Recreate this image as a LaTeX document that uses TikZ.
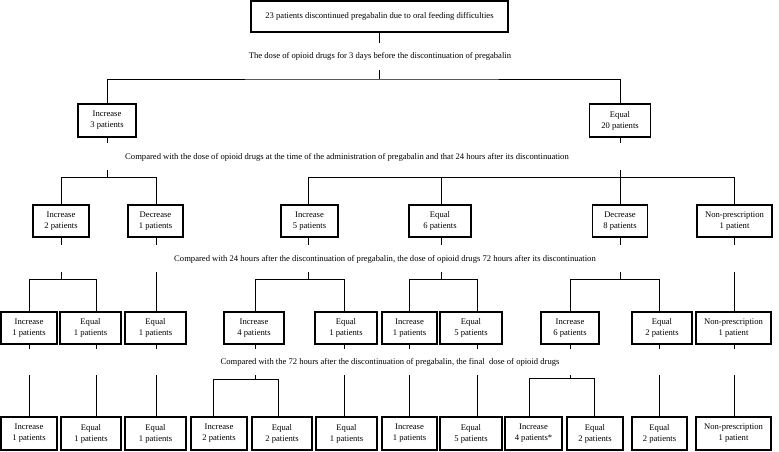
\documentclass[tikz,border=0pt]{standalone}
\usepackage{fontspec}
\setmainfont{Liberation Serif}
\begin{document}
\begin{tikzpicture}[x=1pt,y=-1pt,
  bx/.style={draw, line width=1.3pt, rectangle, inner sep=0pt, align=center,
    font=\fontsize{8.6}{11}\selectfont, minimum height=32pt},
  ln/.style={line width=0.9pt},
  lbl/.style={font=\fontsize{8.6}{10}\selectfont, inner sep=0pt}]
\useasboundingbox (0,0) rectangle (779,451);
% row / column helper coordinates
\coordinate (rA) at (0,43);  \coordinate (rB) at (0,70);  \coordinate (rC) at (0,79);
\coordinate (rE) at (0,170); \coordinate (rF) at (0,177);
\coordinate (rG) at (0,272); \coordinate (rH) at (0,279);
\coordinate (rI) at (0,375); \coordinate (rJ) at (0,379); \coordinate (rK) at (0,378);
\coordinate (c1) at (29,0);  \coordinate (c2) at (96,0);  \coordinate (c3) at (156,0);
\coordinate (c4) at (255,0); \coordinate (c4a) at (213,0); \coordinate (c4b) at (278,0);
\coordinate (c5) at (344,0); \coordinate (c6) at (409,0); \coordinate (c7) at (477,0);
\coordinate (c8) at (570,0); \coordinate (c8a) at (529,0); \coordinate (c8b) at (594,0);
\coordinate (c9) at (659,0); \coordinate (c10) at (734,0);
\coordinate (p1) at (107,0); \coordinate (p2) at (620,0);
\coordinate (q1) at (61,0);  \coordinate (q2) at (156,0); \coordinate (q3) at (308,0);
\coordinate (q4) at (441,0); \coordinate (q5) at (620,0); \coordinate (q6) at (734,0);

% top
\node[bx, minimum width=257pt, minimum height=31pt] (top) at (379.5,16.5)
  {23 patients discontinued pregabalin due to oral feeding difficulties};
\node[lbl] (t1) at (380,56) {The dose of opioid drugs for 3 days before the discontinuation of pregabalin};
\draw[ln] (top.south) -- (top.south |- rA);

% level 1
\node[bx, minimum width=58pt, minimum height=33pt] (inc3) at (107,120.5) {Increase\\3 patients};
\node[bx, minimum width=61pt, minimum height=33pt] (eq20) at (620,120.5) {Equal\\20 patients};
\draw[ln] (top.south |- rB) -- (top.south |- rC);
\draw[ln] (inc3.north) |- (top.south |- rC) -| (eq20.north);
\draw[ln] (inc3.south) -- ++(0,5);
\draw[ln] (eq20.south) -- ++(0,5);
\node[lbl] (t2) at (347,157) {Compared with the dose of opioid drugs at the time of the administration of pregabalin and that 24 hours after its discontinuation};

% level 2
\node[bx, minimum width=56pt] (inc2) at (61,221) {Increase\\2 patients};
\node[bx, minimum width=55pt] (dec1) at (155.5,221) {Decrease\\1 patients};
\node[bx, minimum width=57pt] (inc5) at (309.5,221) {Increase\\5 patients};
\node[bx, minimum width=62pt] (eq6) at (440,221) {Equal\\6 patients};
\node[bx, minimum width=55pt] (dec8) at (620,221) {Decrease\\8 patients};
\node[bx, minimum width=75pt] (np1) at (734.5,221) {Non-prescription\\1 patient};
\draw[ln] (p1 |- rE) -- (p1 |- rF);
\draw[ln] (p2 |- rE) -- (p2 |- rF);
\draw[ln] (q1 |- inc2.north) -- (q1 |- rF) -- (q2 |- rF) -- (q2 |- dec1.north);
\draw[ln] (q3 |- inc5.north) -- (q3 |- rF) -- (q6 |- rF) -- (q6 |- np1.north);
\draw[ln] (q4 |- eq6.north) -- (q4 |- rF);
\draw[ln] (q5 |- dec8.north) -- (q5 |- rF);
\foreach \n/\q in {inc2/q1,dec1/q2,inc5/q3,eq6/q4,dec8/q5,np1/q6}
  \draw[ln] (\q |- \n.south) -- ++(0,7);
\node[lbl] (t3) at (385,259) {Compared with 24 hours after the discontinuation of pregabalin, the dose of opioid drugs 72 hours after its discontinuation};

% level 3
\node[bx, minimum width=56pt] (a1) at (29,328) {Increase\\1 patients};
\node[bx, minimum width=61pt] (a2) at (90.5,328) {Equal\\1 patients};
\node[bx, minimum width=61pt] (a3) at (155.5,328) {Equal\\1 patients};
\node[bx, minimum width=60pt] (a4) at (254,328) {Increase\\4 patients};
\node[bx, minimum width=62pt] (a5) at (346,328) {Equal\\1 patients};
\node[bx, minimum width=55pt] (a6) at (409.5,328) {Increase\\1 patients};
\node[bx, minimum width=62pt] (a7) at (471,328) {Equal\\5 patients};
\node[bx, minimum width=58pt] (a8) at (570,328) {Increase\\6 patients};
\node[bx, minimum width=60pt] (a9) at (662,328) {Equal\\2 patients};
\node[bx, minimum width=75pt] (a10) at (733.5,328) {Non-prescription\\1 patient};
\draw[ln] (q1 |- rG) -- (q1 |- rH);
\draw[ln] (c1 |- a1.north) -- (c1 |- rH) -- (c2 |- rH) -- (c2 |- a2.north);
\draw[ln] (q2 |- rG) -- (c3 |- a3.north);
\draw[ln] (q3 |- rG) -- (q3 |- rH);
\draw[ln] (c4 |- a4.north) -- (c4 |- rH) -- (c5 |- rH) -- (c5 |- a5.north);
\draw[ln] (q4 |- rG) -- (q4 |- rH);
\draw[ln] (c6 |- a6.north) -- (c6 |- rH) -- (c7 |- rH) -- (c7 |- a7.north);
\draw[ln] (q5 |- rG) -- (q5 |- rH);
\draw[ln] (c8 |- a8.north) -- (c8 |- rH) -- (c9 |- rH) -- (c9 |- a9.north);
\draw[ln] (q6 |- rG) -- (c10 |- a10.north);
\foreach \n/\c in {a1/c1,a2/c2,a3/c3,a4/c4,a5/c5,a6/c6,a7/c7,a8/c8,a9/c9,a10/c10}
  \draw[ln] (\c |- \n.south) -- ++(0,4);
\node[lbl] (t4) at (390,362) {Compared with the 72 hours after the discontinuation of pregabalin, the final\ \ dose of opioid drugs};

% level 4
\node[bx, minimum width=56pt, minimum height=33pt] (b1) at (29,433.5) {Increase\\1 patients};
\node[bx, minimum width=60pt, minimum height=33pt] (b2) at (91,433.5) {Equal\\1 patients};
\node[bx, minimum width=61pt, minimum height=33pt] (b3) at (155.5,433.5) {Equal\\1 patients};
\node[bx, minimum width=56pt, minimum height=33pt] (b4) at (219,433.5) {Increase\\2 patients};
\node[bx, minimum width=60pt, minimum height=33pt] (b5) at (282,433.5) {Equal\\2 patients};
\node[bx, minimum width=61pt, minimum height=33pt] (b6) at (346.5,433.5) {Equal\\1 patients};
\node[bx, minimum width=55pt, minimum height=33pt] (b7) at (409.5,433.5) {Increase\\1 patients};
\node[bx, minimum width=62pt, minimum height=33pt] (b8) at (471,433.5) {Equal\\5 patients};
\node[bx, minimum width=57pt, minimum height=33pt] (b9) at (533.5,433.5) {Increase\\4 patients*};
\node[bx, minimum width=56pt, minimum height=33pt] (b10) at (595,433.5) {Equal\\2 patients};
\node[bx, minimum width=55pt, minimum height=33pt] (b11) at (659.5,433.5) {Equal\\2 patients};
\node[bx, minimum width=75pt, minimum height=33pt] (b12) at (733.5,433.5) {Non-prescription\\1 patient};
\draw[ln] (c1 |- rI) -- (c1 |- b1.north);
\draw[ln] (c2 |- rI) -- (c2 |- b2.north);
\draw[ln] (c3 |- rI) -- (c3 |- b3.north);
\draw[ln] (c4 |- rI) -- (c4 |- rJ);
\draw[ln] (c4a |- b4.north) -- (c4a |- rJ) -- (c4b |- rJ) -- (c4b |- b5.north);
\draw[ln] (c5 |- rI) -- (c5 |- b6.north);
\draw[ln] (c6 |- rI) -- (c6 |- b7.north);
\draw[ln] (c7 |- rI) -- (c7 |- b8.north);
\draw[ln] (c8 |- rI) -- (c8 |- rK);
\draw[ln] (c8a |- b9.north) -- (c8a |- rK) -- (c8b |- rK) -- (c8b |- b10.north);
\draw[ln] (c9 |- rI) -- (c9 |- b11.north);
\draw[ln] (c10 |- rI) -- (c10 |- b12.north);
\end{tikzpicture}
\end{document}
